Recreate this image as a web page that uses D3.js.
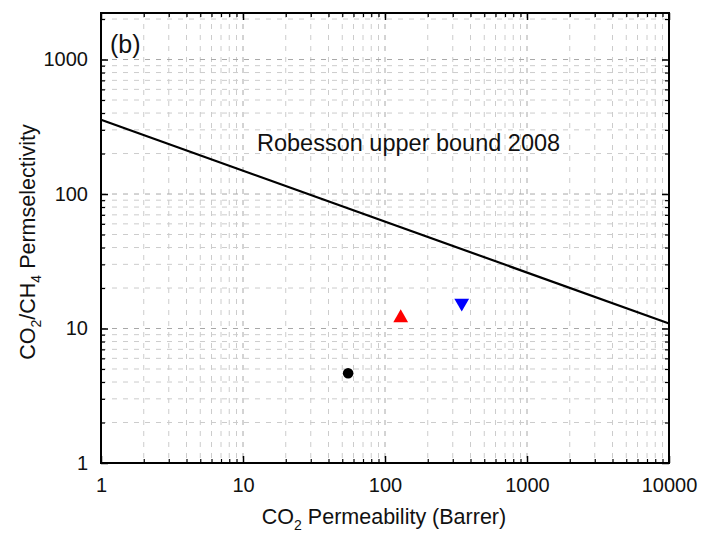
<!DOCTYPE html>
<html><head><meta charset="utf-8">
<script src="https://cdn.jsdelivr.net/npm/d3@7"></script>
<style>body{margin:0;background:#fff;} text{font-family:"Liberation Sans",Arial,sans-serif;fill:#111;}</style>
</head><body><svg id="c" width="704" height="540"></svg>
<script>
const xTicks = [1, 10, 100, 1000, 10000];
const yTicks = [1, 10, 100, 1000];
const xDomain = [1, 10000];
const yDomain = [1, 2218];
// Robeson 2008 CO2/CH4 upper bound endpoints
const boundP = [1, 10000];
const boundA = [357, 10.9];
const pointsP = [55, 129, 347];
const pointsA = [4.65, 12.0, 15.5];
const pointShapes = ["circle", "up", "down"];
const pointColors = ["#000000", "#ff0000", "#0000ff"];

const svg = d3.select("#c");
const L = 101, R = 669, T = 13, B = 463;
const x = d3.scaleLog().domain(xDomain).range([L, R]);
const y = d3.scaleLog().domain(yDomain).range([B, T]);

function minors(lo, hi) {
  const out = [];
  for (let d = lo; d < hi; d *= 10) for (let k = 2; k <= 9; k++) { const v = d * k; if (v <= hi) out.push(v); }
  return out;
}
const xMin = minors(1, 10000);
const yMin = minors(1, 2218);

const g = svg.append("g");
g.selectAll(".xm").data(xMin).join("line").attr("x1", d => x(d)).attr("x2", d => x(d)).attr("y1", T).attr("y2", B)
  .attr("stroke", "#cccccc").attr("stroke-width", 1).attr("stroke-dasharray", "5,6");
g.selectAll(".ym").data(yMin).join("line").attr("y1", d => y(d)).attr("y2", d => y(d)).attr("x1", L).attr("x2", R)
  .attr("stroke", "#cccccc").attr("stroke-width", 1).attr("stroke-dasharray", "5,6");
g.selectAll(".xg").data(xTicks.slice(1, -1)).join("line").attr("x1", d => x(d)).attr("x2", d => x(d)).attr("y1", T).attr("y2", B)
  .attr("stroke", "#a8a8a8").attr("stroke-width", 1).attr("stroke-dasharray", "5,6");
g.selectAll(".yg").data(yTicks.slice(1)).join("line").attr("y1", d => y(d)).attr("y2", d => y(d)).attr("x1", L).attr("x2", R)
  .attr("stroke", "#a8a8a8").attr("stroke-width", 1).attr("stroke-dasharray", "5,6");

const fmt = d => String(d);
const ax = (axis, tr) => svg.append("g").attr("transform", tr).call(axis);
const setupMajor = a => a.call(s => s.select(".domain").remove()).call(s => s.selectAll("line").attr("stroke", "#000").attr("stroke-width", 1.5));
const setupMinor = a => a.call(s => s.select(".domain").remove()).call(s => s.selectAll("line").attr("stroke", "#000").attr("stroke-width", 1.2));

const bx = ax(d3.axisBottom(x).tickValues(xTicks).tickFormat(fmt).tickSizeInner(-7).tickPadding(15), `translate(0,${B})`);
setupMajor(bx); bx.selectAll("text").attr("font-size", 20).attr("fill", "#111");
const bxm = ax(d3.axisBottom(x).tickValues(xMin).tickFormat("").tickSizeInner(-4), `translate(0,${B})`); setupMinor(bxm);
const tx = ax(d3.axisTop(x).tickValues(xTicks).tickFormat("").tickSizeInner(-7), `translate(0,${T})`); setupMajor(tx);
const txm = ax(d3.axisTop(x).tickValues(xMin).tickFormat("").tickSizeInner(-4), `translate(0,${T})`); setupMinor(txm);

const ly = ax(d3.axisLeft(y).tickValues(yTicks).tickFormat(fmt).tickSizeInner(-7).tickPadding(13), `translate(${L},0)`);
setupMajor(ly); ly.selectAll("text").attr("font-size", 20).attr("fill", "#111");
const lym = ax(d3.axisLeft(y).tickValues(yMin).tickFormat("").tickSizeInner(-4), `translate(${L},0)`); setupMinor(lym);
const ry = ax(d3.axisRight(y).tickValues(yTicks).tickFormat("").tickSizeInner(-7), `translate(${R},0)`); setupMajor(ry);
const rym = ax(d3.axisRight(y).tickValues(yMin).tickFormat("").tickSizeInner(-4), `translate(${R},0)`); setupMinor(rym);

svg.append("rect").attr("x", L).attr("y", T).attr("width", R - L).attr("height", B - T)
  .attr("fill", "none").attr("stroke", "#000").attr("stroke-width", 2);

const line = d3.line().x(d => x(d[0])).y(d => y(d[1]));
svg.append("path").datum(boundP.map((p, i) => [p, boundA[i]])).attr("d", line)
  .attr("fill", "none").attr("stroke", "#000").attr("stroke-width", 2.2);

const tri = d3.symbol().type(d3.symbolTriangle).size(95);
pointsP.forEach((p, i) => {
  const cx = x(p), cy = y(pointsA[i]);
  if (pointShapes[i] === "circle") {
    svg.append("circle").attr("cx", cx).attr("cy", cy).attr("r", 5.3).attr("fill", pointColors[i]);
  } else {
    svg.append("path").attr("d", tri()).attr("fill", pointColors[i])
      .attr("transform", `translate(${cx},${cy})${pointShapes[i] === "down" ? " rotate(180)" : ""}`);
  }
});

svg.append("text").attr("x", 257).attr("y", 151).attr("font-size", 23.5).text("Robesson upper bound 2008");
svg.append("text").attr("x", 110).attr("y", 53).attr("font-size", 25).text("(b)");

const xt = svg.append("text").attr("x", 384).attr("y", 524).attr("text-anchor", "middle").attr("font-size", 21.5);
xt.append("tspan").text("CO");
xt.append("tspan").attr("font-size", 14).attr("dy", 6).text("2");
xt.append("tspan").attr("dy", -6).text(" Permeability (Barrer)");

const yt = svg.append("text").attr("transform", "translate(35,242) rotate(-90)").attr("text-anchor", "middle").attr("font-size", 21.5);
yt.append("tspan").text("CO");
yt.append("tspan").attr("font-size", 14).attr("dy", 6).text("2");
yt.append("tspan").attr("dy", -6).text("/CH");
yt.append("tspan").attr("font-size", 14).attr("dy", 6).text("4");
yt.append("tspan").attr("dy", -6).text(" Permselectivity");
</script></body></html>
